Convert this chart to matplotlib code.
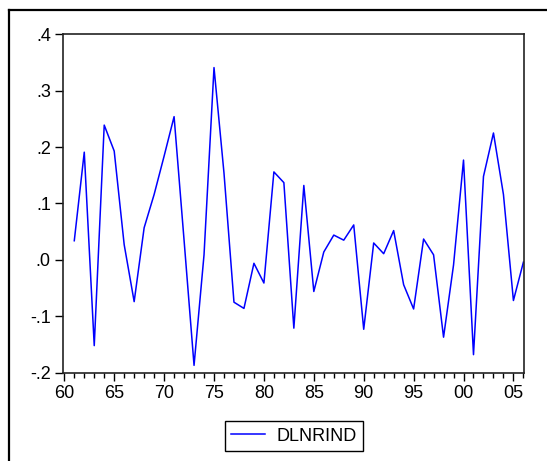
import matplotlib
matplotlib.use("Agg")
import matplotlib.pyplot as plt
from matplotlib.lines import Line2D
from matplotlib.ticker import FixedLocator, MultipleLocator

years = list(range(1961, 2007))
dlnrind = [0.034, 0.191, -0.152, 0.239, 0.193, 0.027, -0.074, 0.057, 0.116, 0.184,
           0.254, 0.035, -0.187, 0.009, 0.341, 0.154, -0.075, -0.086, -0.006, -0.041,
           0.156, 0.137, -0.121, 0.132, -0.056, 0.014, 0.044, 0.035, 0.062, -0.123,
           0.030, 0.011, 0.052, -0.044, -0.087, 0.037, 0.009, -0.137, -0.009, 0.177,
           -0.168, 0.148, 0.225, 0.116, -0.072, -0.004]

y_ticks = [-0.2, -0.1, 0.0, 0.1, 0.2, 0.3, 0.4]
y_labels = ["-.2", "-.1", ".0", ".1", ".2", ".3", ".4"]
x_ticks = [1960, 1965, 1970, 1975, 1980, 1985, 1990, 1995, 2000, 2005]
x_labels = ["60", "65", "70", "75", "80", "85", "90", "95", "00", "05"]

plt.rcParams['font.family'] = ['Liberation Sans', 'DejaVu Sans']
W, H = 547, 461
fig = plt.figure(figsize=(W / 100, H / 100), dpi=100)
ax = fig.add_axes([63.3 / W, 1 - 372.7 / H, (524 - 63.3) / W, (372.7 - 34.3) / H])

ax.plot(years, dlnrind, color="#0000ff", lw=1.1, label="DLNRIND")
ax.set_xlim(1959.9, 2006.06)
ax.set_ylim(-0.2, 0.4)

ax.yaxis.set_major_locator(FixedLocator(y_ticks))
ax.set_yticklabels(y_labels)
ax.xaxis.set_major_locator(FixedLocator(x_ticks))
ax.set_xticklabels(x_labels)
ax.xaxis.set_minor_locator(MultipleLocator(1))
ax.tick_params(axis="both", which="major", direction="out", length=6, width=1,
               labelsize=13, pad=3, colors="black")
ax.tick_params(axis="x", which="minor", direction="out", length=3.5, width=1)
for s in ax.spines.values():
    s.set_linewidth(1.2)
    s.set_color("#222222")

fig.legend(loc="center", bbox_to_anchor=(294 / W, 1 - 436 / H), fontsize=13,
           fancybox=False, edgecolor="black", framealpha=1, handlelength=1.9,
           handletextpad=0.65, borderpad=0.35, borderaxespad=0)
leg = fig.legends[0]
leg.get_frame().set_linewidth(1.0)

# outer frame of the graph window
fig.add_artist(Line2D([9.3 / W, 9.3 / W], [0, 1 - 10 / H], color="black", lw=1.6,
                      transform=fig.transFigure))
fig.add_artist(Line2D([8.5 / W, 1], [1 - 10 / H, 1 - 10 / H], color="black", lw=1.6,
                      transform=fig.transFigure))

fig.savefig("out.png", dpi=100)
